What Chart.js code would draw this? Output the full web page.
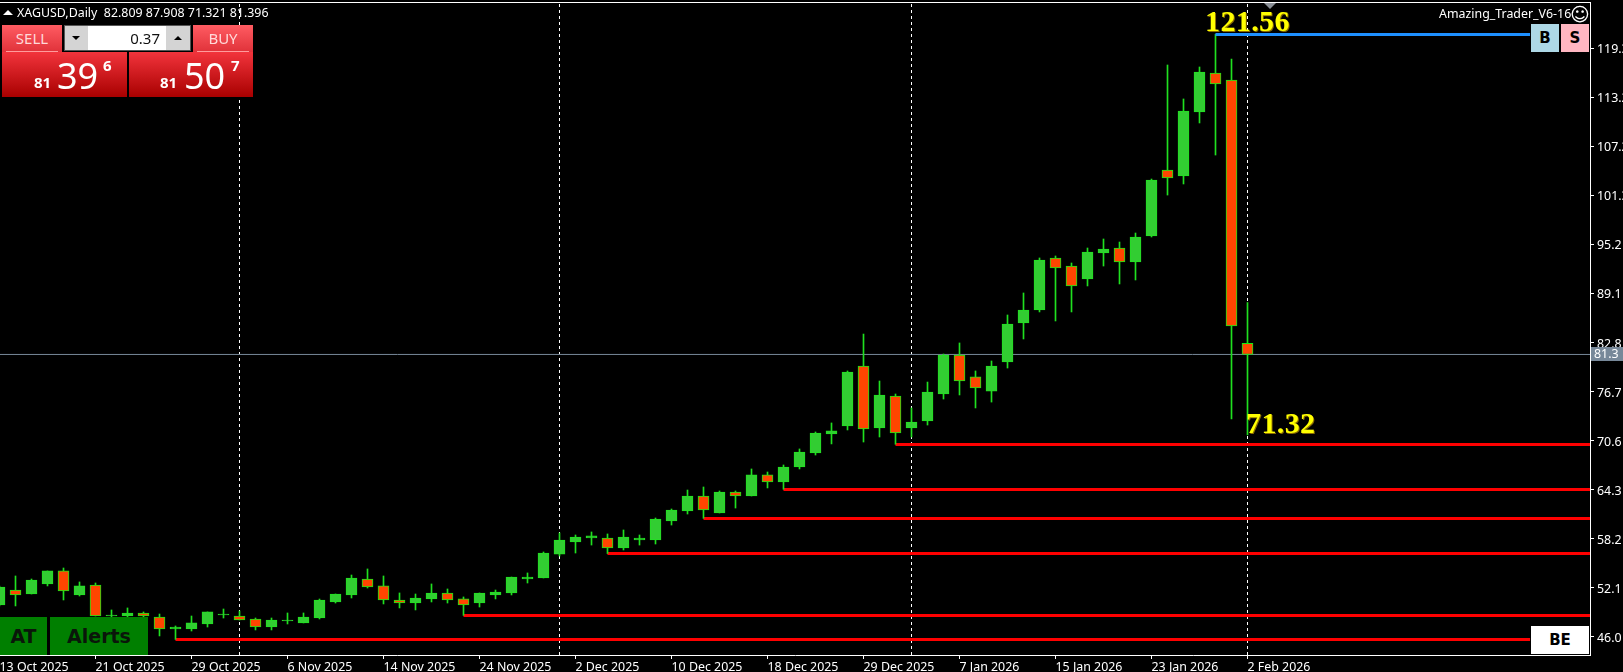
<!DOCTYPE html>
<html>
<head>
<meta charset="utf-8">
<title>XAGUSD Daily</title>
<script src="https://cdn.jsdelivr.net/npm/chart.js@4"></script>
<style>
    html, body { margin: 0; padding: 0; background: #000; overflow: hidden; }
    #wrap { position: relative; width: 1623px; height: 672px; overflow: hidden; font-family: "Noto Sans", sans-serif; }
    canvas { position: absolute; left: 0; top: 0; }
    .box { position: absolute; white-space: pre; }
    .lbl { color: #fff; font-size: 12.4px; line-height: 16px; }
    .big { color: #ffff00; font: bold 30px/34px "Liberation Serif", serif; letter-spacing: 0.4px; text-shadow: 1px 1px 0 #8a6a00; }
    .red { background: linear-gradient(#f2343c, #a80000); }
    .redtop { background: linear-gradient(#ff5c62, #e0323a); color: #ffd9d9; font-size: 15px; line-height: 27px; text-align: center; }
    .rule { background: #ff9c9c; height: 1px; }
    .price { color: #fff; font-size: 36px; line-height: 40px; }
    .small { color: #fff; font-size: 15px; font-weight: bold; line-height: 18px; }
    .tool { background: #d4d4d4; border: 1px solid #555; box-sizing: border-box; }
    .flat { font: bold 15px/28px "DejaVu Sans", sans-serif; color: #000; text-align: center; }
    .green { background: #007f00; color: #0a160a; font: bold 19px/38px "DejaVu Sans", sans-serif; text-align: center; }
</style>
</head>
<body>
<div id="wrap">
    <canvas id="chart" width="1623" height="672"></canvas>

    <!-- top frame line and shift marker -->
    <div class="box" style="left:0;top:2px;width:1590px;height:1px;background:#fff"></div>
    <div class="box" style="left:1264px;top:3px;width:0;height:0;border-left:6px solid transparent;border-right:6px solid transparent;border-top:6px solid #8a8f96"></div>

    <!-- header -->
    <div class="box" style="left:3px;top:10px;width:0;height:0;border-left:5px solid transparent;border-right:5px solid transparent;border-bottom:5px solid #fff"></div>
    <div class="box lbl" id="header" style="left:17px;top:5px"></div>
    <div class="box lbl" id="indicator" style="left:1439px;top:6px"></div>
    <div class="box" style="left:1570px;top:2px;color:#fff;font:19px/24px 'DejaVu Sans',sans-serif">☺</div>

    <!-- one click trading panel -->
    <div class="box redtop" style="left:2px;top:25px;width:60px;height:27px">SELL</div>
    <div class="box redtop" style="left:193px;top:25px;width:60px;height:27px">BUY</div>
    <div class="box rule" style="left:6px;top:51px;width:52px"></div>
    <div class="box rule" style="left:197px;top:51px;width:52px"></div>
    <div class="box red" style="left:2px;top:52px;width:125px;height:45px"></div>
    <div class="box red" style="left:129px;top:52px;width:124px;height:45px"></div>
    <div class="box tool" style="left:64px;top:25px;width:127px;height:26px"></div>
    <div class="box" style="left:88px;top:26px;width:78px;height:24px;background:#fff;color:#111;font-size:15px;line-height:24px;text-align:right;padding-right:6px;box-sizing:border-box">0.37</div>
    <div class="box" style="left:72px;top:36px;width:0;height:0;border-left:4px solid transparent;border-right:4px solid transparent;border-top:4px solid #000"></div>
    <div class="box" style="left:174px;top:36px;width:0;height:0;border-left:4px solid transparent;border-right:4px solid transparent;border-bottom:4px solid #000"></div>
    <div class="box small" style="left:34px;top:73px">81</div>
    <div class="box price" style="left:57px;top:56px">39</div>
    <div class="box small" style="left:103px;top:56px">6</div>
    <div class="box small" style="left:160px;top:73px">81</div>
    <div class="box price" style="left:184px;top:56px">50</div>
    <div class="box small" style="left:231px;top:56px">7</div>

    <!-- buttons on the chart -->
    <div class="box green" style="left:0;top:617px;width:47px;height:38px">AT</div>
    <div class="box green" style="left:50px;top:617px;width:98px;height:38px">Alerts</div>
    <div class="box flat" style="left:1531px;top:24px;width:28px;height:28px;background:#add8e6">B</div>
    <div class="box flat" style="left:1561px;top:24px;width:28px;height:28px;background:#ffb6c1">S</div>
    <div class="box flat" style="left:1531px;top:626px;width:58px;height:28px;background:#fff">BE</div>

    <!-- price annotations -->
    <div class="box big" style="left:1205px;top:4px">121.56</div>
    <div class="box big" style="left:1246px;top:406px">71.32</div>

    <!-- current price tag -->
    <div class="box" id="bidTag" style="left:1591px;top:347px;width:32px;height:14px;background:#778899;color:#fff;font-size:12.4px;line-height:14px;padding-left:3px;box-sizing:border-box"></div>
</div>

<script>
// Daily candles, oldest first
const opens = [
    49.98, 51.86, 51.36, 52.62, 54.25, 51.24, 52.49, 48.60, 48.60, 48.98,
    48.48, 46.97, 46.97, 47.60, 48.73, 48.60, 48.23, 47.22, 47.98, 47.73,
    48.35, 50.36, 51.24, 53.24, 52.37, 50.61, 50.23, 50.74, 51.49, 50.74,
    50.23, 51.24, 51.49, 53.24, 53.37, 56.37, 57.88, 58.38, 58.38, 57.13,
    58.13, 58.13, 60.51, 61.77, 63.65, 61.52, 64.15, 63.65, 66.29, 65.41,
    67.29, 69.04, 71.43, 72.43, 79.95, 72.18, 76.19, 72.18, 73.05, 76.44,
    81.33, 78.58, 76.81, 80.45, 85.35, 86.98, 93.50, 92.49, 90.86, 94.12,
    94.75, 93.00, 96.25, 104.53, 103.78, 111.81, 116.70, 115.82, 82.81
];
const highs = [
    52.36, 53.62, 53.24, 54.25, 54.62, 52.87, 52.74, 49.36, 49.61, 49.11,
    48.85, 47.35, 48.60, 49.11, 49.48, 49.23, 48.35, 48.35, 48.98, 48.98,
    50.73, 51.36, 53.74, 54.50, 53.62, 51.49, 51.36, 52.62, 51.99, 50.99,
    51.49, 51.86, 53.49, 54.00, 56.63, 59.01, 58.76, 59.14, 58.89, 59.39,
    58.76, 60.89, 62.02, 64.40, 64.78, 64.28, 64.28, 67.04, 66.66, 67.54,
    69.55, 71.68, 72.81, 79.33, 83.96, 78.07, 76.44, 74.69, 77.94, 81.45,
    82.84, 79.33, 80.58, 86.35, 89.11, 93.50, 93.75, 92.87, 94.75, 95.88,
    95.50, 96.63, 103.40, 117.70, 113.44, 117.45, 121.56, 118.45, 87.91
];
const lows = [
    49.85, 49.86, 51.36, 52.37, 50.61, 51.11, 48.60, 48.10, 48.48, 48.35,
    46.10, 45.67, 46.72, 47.22, 48.35, 48.10, 46.85, 46.85, 47.60, 47.73,
    48.23, 50.23, 50.86, 52.11, 50.11, 49.61, 49.36, 50.36, 50.23, 48.68,
    49.73, 50.74, 51.24, 52.74, 53.37, 56.12, 56.50, 57.50, 56.44, 56.88,
    57.50, 57.63, 60.01, 61.39, 60.85, 61.52, 62.14, 63.65, 64.66, 64.49,
    67.04, 68.79, 70.18, 71.93, 70.42, 71.05, 70.14, 71.05, 72.55, 75.81,
    76.32, 74.69, 75.43, 79.70, 83.34, 86.73, 85.60, 86.73, 89.99, 92.49,
    90.24, 90.74, 96.13, 101.39, 102.78, 110.43, 106.41, 73.31, 71.32
];
const closes = [
    52.24, 51.24, 53.12, 54.25, 51.74, 52.37, 48.60, 48.73, 48.98, 48.60,
    46.97, 47.22, 47.73, 49.11, 48.85, 48.10, 47.22, 48.10, 48.10, 48.48,
    50.61, 51.36, 53.37, 52.24, 50.61, 50.23, 50.86, 51.49, 50.61, 49.98,
    51.49, 51.61, 53.49, 53.49, 56.50, 58.13, 58.51, 58.64, 57.13, 58.51,
    58.38, 60.76, 61.89, 63.65, 61.89, 64.15, 63.65, 66.29, 65.41, 67.29,
    69.17, 71.55, 71.81, 79.20, 72.05, 76.32, 71.55, 72.93, 76.69, 81.33,
    78.07, 77.19, 79.95, 85.22, 86.98, 93.25, 92.24, 89.99, 94.25, 94.63,
    93.00, 96.13, 103.27, 103.53, 111.93, 116.82, 115.32, 84.97, 81.40
];

// Axis labels
const dateTickIndex = [0, 6, 12, 18, 24, 30, 36, 42, 48, 54, 60, 66, 72, 78];
const dateTickLabels = [
    '13 Oct 2025', '21 Oct 2025', '29 Oct 2025', '6 Nov 2025', '14 Nov 2025',
    '24 Nov 2025', '2 Dec 2025', '10 Dec 2025', '18 Dec 2025', '29 Dec 2025',
    '7 Jan 2026', '15 Jan 2026', '23 Jan 2026', '2 Feb 2026'
];
const priceTicks = [46.0, 52.15, 58.3, 64.45, 70.6, 76.75, 82.9, 89.05, 95.2, 101.35, 107.5, 113.65, 119.8];
const priceLabels = ['46.0', '52.1', '58.2', '64.3', '70.6', '76.7', '82.8', '89.1', '95.2', '101.3', '107.2', '113.2', '119.3'];

// Monthly separators, candle index
const separators = [15, 35, 57, 78];

// Support levels: price, first candle, last x position
const xMin = 0.03125;
const xMax = 99.40625;
const buttonEdge = 95.66;
const levelPrices = [45.65, 48.66, 56.44, 60.83, 64.47, 70.11];
const levelStarts = [11, 29, 38, 44, 49, 56];
const levelEnds = [buttonEdge, xMax, xMax, xMax, xMax, xMax];

const highPrice = 121.53;
const highStart = 76;
const bidPrice = 81.4;

const yMin = 43.71;
const yMax = 125.6;

document.getElementById('header').textContent = 'XAGUSD,Daily  82.809 87.908 71.321 81.396';
document.getElementById('indicator').textContent = 'Amazing_Trader_V6-16';
document.getElementById('bidTag').textContent = '81.3';

const isUp = (i) => closes[i] >= opens[i];
const bodies = (up) => opens
    .map((o, i) => ({ x: i, y: [Math.min(o, closes[i]), Math.max(o, closes[i])] }))
    .filter((d) => isUp(d.x) === up);

const lineDs = (data, color, width, order, dash) => ({
    type: 'line',
    data: data,
    borderColor: color,
    borderWidth: width,
    borderDash: dash || [],
    pointRadius: 0,
    order: order
});

const datasets = [
    // wicks
    {
        data: highs.map((h, i) => ({ x: i, y: [lows[i], h] })),
        backgroundColor: '#1fe01f',
        barThickness: 1,
        grouped: false,
        order: 3
    },
    // up candles
    {
        data: bodies(true),
        backgroundColor: '#32cd32',
        borderColor: '#22e022',
        borderWidth: 1,
        borderSkipped: false,
        barThickness: 11,
        grouped: false,
        order: 2
    },
    // down candles
    {
        data: bodies(false),
        backgroundColor: '#ff4500',
        borderColor: '#11ee11',
        borderWidth: 1,
        borderSkipped: false,
        barThickness: 11,
        grouped: false,
        order: 1
    },
    lineDs([{ x: xMin, y: bidPrice }, { x: xMax, y: bidPrice }], '#778899', 1, 6),
    lineDs([{ x: highStart, y: highPrice }, { x: buttonEdge, y: highPrice }], '#1e90ff', 3, 0)
];

levelPrices.forEach((price, n) => {
    datasets.push(lineDs([{ x: levelStarts[n], y: price }, { x: levelEnds[n], y: price }], '#ff0000', 3, 4));
});

separators.forEach((i) => {
    datasets.push(lineDs([{ x: i, y: yMin }, { x: i, y: yMax }], '#ffffff', 1, 7, [3, 3]));
});

const axisFont = { family: '"Noto Sans", sans-serif', size: 12.4 };

new Chart(document.getElementById('chart'), {
    type: 'bar',
    data: { datasets: datasets },
    options: {
        responsive: false,
        animation: false,
        events: [],
        layout: { autoPadding: false, padding: { left: 0, right: 0, top: 2, bottom: 0 } },
        plugins: { legend: { display: false }, tooltip: { enabled: false } },
        scales: {
            x: {
                type: 'linear',
                offset: false,
                min: xMin,
                max: xMax,
                afterBuildTicks: (s) => { s.ticks = dateTickIndex.map((v) => ({ value: v })); },
                afterFit: (s) => { s.height = 17; s.paddingLeft = 0; s.paddingRight = 0; },
                grid: { offset: false, drawOnChartArea: false, color: '#fff', tickLength: 4 },
                border: { color: '#fff' },
                ticks: {
                    align: 'start',
                    autoSkip: false,
                    maxRotation: 0,
                    padding: 1,
                    color: '#fff',
                    font: axisFont,
                    callback: (v) => dateTickLabels[dateTickIndex.indexOf(v)]
                }
            },
            y: {
                position: 'right',
                min: yMin,
                max: yMax,
                afterBuildTicks: (s) => { s.ticks = priceTicks.map((v) => ({ value: v })); },
                afterFit: (s) => { s.width = 33; s.paddingTop = 0; s.paddingBottom = 0; },
                grid: { drawOnChartArea: false, color: '#fff', tickLength: 4 },
                border: { color: '#fff' },
                ticks: {
                    autoSkip: false,
                    padding: 3,
                    labelOffset: 1.5,
                    color: '#fff',
                    font: axisFont,
                    callback: (v) => priceLabels[priceTicks.indexOf(v)]
                }
            }
        }
    }
});
</script>
</body>
</html>
